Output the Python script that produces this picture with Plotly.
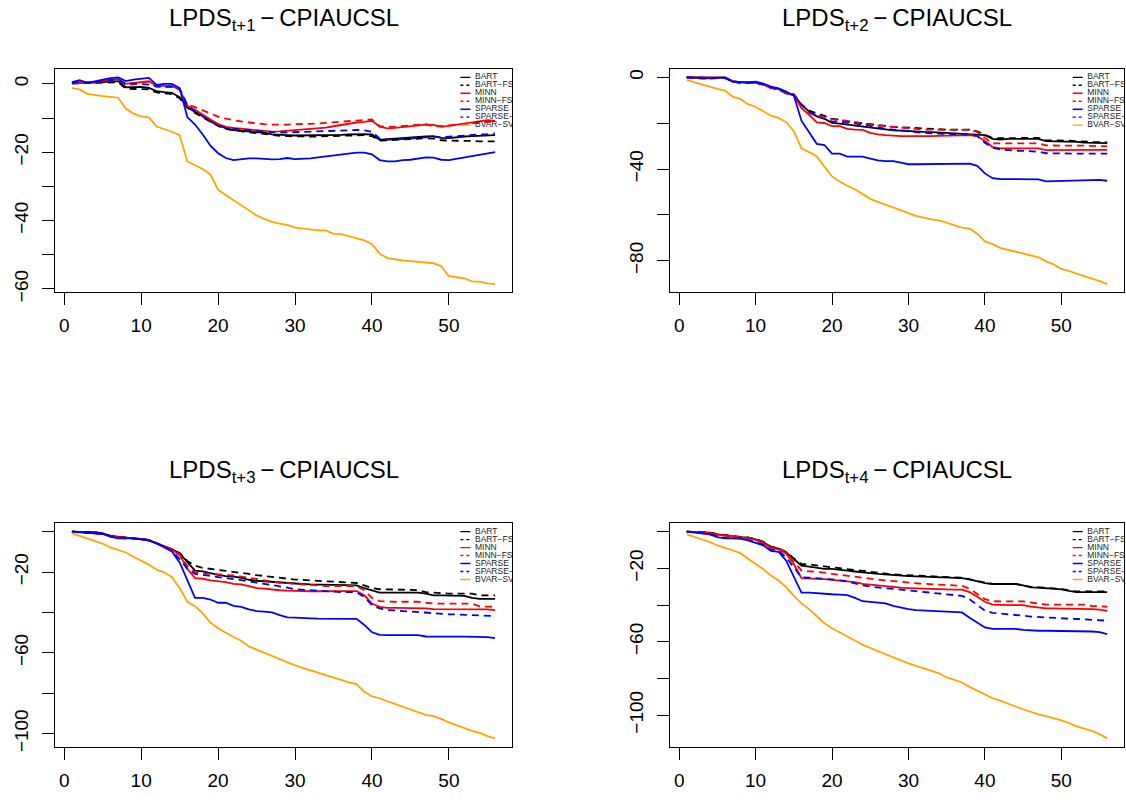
import plotly.graph_objects as go

# ---------------------------------------------------------------
# Cumulative log predictive density scores, CPIAUCSL, horizons 1-4
# ---------------------------------------------------------------
periods = list(range(1, 57))
models = ["BART", "BART\u2212FS", "MINN", "MINN\u2212FS", "SPARSE", "SPARSE\u2212FS", "BVAR\u2212SV"]
horizon_labels = ["t+1", "t+2", "t+3", "t+4"]

# horizon 1
bart_h1 = [0.25, 0.4, 0.4, 0.4, 0.5, 0.7, 0.8, -1.0, -0.9, -0.9, -1.2, -2.1, -2.4, -2.6, -3.9,
           -6.8, -8.2, -9.4, -10.6, -12.0, -13.0, -13.5, -13.7, -14.0, -14.1, -14.3, -14.8, -15.0, -15.0, -15.1,
           -15.1, -15.1, -15.1, -15.0, -15.0, -14.9, -14.8, -14.7, -14.7, -14.8, -16.4, -16.2, -16.0, -15.8, -15.7,
           -15.6, -15.4, -15.3, -15.8, -15.9, -15.6, -15.4, -15.3, -15.2, -15.1, -15.0]
bart_fs_h1 = [0.1, 0.2, 0.2, 0.2, 0.3, 0.5, 0.5, -1.4, -1.4, -1.4, -1.6, -2.5, -2.8, -3.0, -4.2,
              -7.0, -8.5, -9.8, -11.0, -12.3, -13.2, -13.6, -13.9, -14.2, -14.4, -14.7, -15.1, -15.2, -15.3, -15.4,
              -15.5, -15.4, -15.4, -15.3, -15.4, -15.3, -15.1, -15.1, -15.0, -15.3, -16.6, -16.5, -16.4, -16.3, -16.0,
              -16.0, -15.9, -16.0, -16.5, -16.6, -16.6, -16.5, -16.7, -16.8, -16.8, -16.8]
minn_h1 = [0.35, 0.5, 0.4, 0.6, 0.9, 1.25, 1.45, 0.0, 0.2, 0.6, 0.8, -0.6, -0.6, -0.6, -1.7,
           -6.4, -7.6, -8.9, -10.4, -11.8, -12.6, -12.9, -13.1, -13.2, -13.4, -13.7, -14.0, -13.9, -13.7, -13.5,
           -13.4, -13.3, -13.1, -12.8, -12.4, -12.0, -11.6, -11.3, -11.1, -10.8, -12.5, -13.0, -12.9, -12.7, -12.4,
           -12.1, -11.9, -12.0, -12.6, -12.3, -12.0, -11.6, -11.2, -10.9, -10.6, -10.8]
minn_fs_h1 = [0.3, 0.4, 0.3, 0.5, 0.7, 1.0, 1.2, -0.3, -0.1, 0.4, 0.6, -0.8, -0.8, -0.8, -1.6,
              -6.1, -6.8, -7.8, -8.8, -9.6, -10.2, -10.7, -11.0, -11.3, -11.6, -11.8, -11.9, -12.0, -11.9, -11.8,
              -11.8, -11.7, -11.6, -11.4, -11.2, -11.0, -10.8, -10.6, -10.5, -10.4, -12.4, -12.6, -12.5, -12.3, -12.1,
              -11.9, -11.8, -12.5, -12.4, -12.2, -12.0, -11.8, -11.6, -11.4, -11.1, -10.9]
sparse_h1 = [0.5, 1.1, 0.3, 0.8, 1.25, 1.7, 1.9, 0.8, 1.25, 1.5, 1.75, -0.3, 0.0, 0.0, -1.2,
             -9.7, -11.9, -14.8, -18.1, -20.3, -21.7, -22.3, -22.0, -21.8, -21.8, -22.0, -22.1, -22.0, -21.7, -22.0,
             -22.0, -21.8, -21.5, -21.2, -20.9, -20.7, -20.4, -20.1, -20.1, -20.6, -22.3, -22.7, -22.7, -22.3, -22.2,
             -21.8, -21.5, -21.6, -22.2, -22.3, -21.9, -21.4, -21.0, -20.7, -20.3, -20.0]
sparse_fs_h1 = [0.3, 0.8, 0.2, 0.5, 0.9, 1.1, 1.2, 0.0, 0.1, 0.0, -0.2, -0.8, -0.8, -0.9, -1.4,
                -6.3, -8.0, -9.5, -11.0, -12.2, -12.9, -13.2, -13.4, -13.6, -13.9, -14.1, -14.3, -14.3, -14.2, -14.1,
                -14.0, -13.9, -13.8, -13.7, -13.6, -13.5, -13.5, -13.5, -13.6, -14.0, -16.0, -16.3, -16.3, -16.1, -15.9,
                -15.7, -15.6, -15.5, -15.6, -15.4, -15.2, -15.0, -14.9, -14.8, -14.7, -14.5]
bvar_h1 = [-1.25, -1.6, -2.9, -3.3, -3.6, -3.8, -4.05, -7.2, -8.7, -9.5, -9.8, -12.5, -13.2, -14.0, -15.0,
           -22.7, -23.8, -24.9, -26.5, -31.0, -32.5, -34.0, -35.6, -37.2, -38.5, -39.5, -40.4, -40.9, -41.3, -42.1,
           -42.4, -42.8, -42.9, -42.9, -43.9, -44.0, -44.6, -45.0, -45.8, -46.9, -49.7, -51.0, -51.4, -51.7, -51.9,
           -52.1, -52.2, -52.5, -53.4, -56.3, -56.6, -56.9, -57.8, -57.9, -58.4, -58.6]

# horizon 2
bart_h2 = [0.0, -0.1, -0.1, -0.1, -0.1, -0.1, -1.6, -2.1, -2.2, -2.3, -3.0, -4.5, -5.0, -6.9, -7.6,
           -12.0, -14.8, -17.0, -18.0, -19.9, -20.2, -20.6, -21.0, -21.3, -22.0, -22.3, -22.8, -23.1, -23.2, -23.5,
           -23.6, -23.8, -23.9, -24.1, -24.1, -24.2, -24.4, -24.6, -24.8, -25.2, -26.8, -27.1, -26.8, -26.8, -26.8,
           -26.8, -26.8, -27.8, -27.8, -27.8, -28.1, -28.1, -28.5, -28.5, -28.5, -28.7]
bart_fs_h2 = [0.0, -0.2, -0.3, -0.3, -0.2, -0.2, -1.8, -2.4, -2.5, -2.5, -3.2, -4.6, -5.2, -7.0, -7.5,
              -11.8, -14.5, -15.8, -16.8, -18.0, -18.6, -19.2, -19.6, -20.0, -20.5, -20.9, -21.2, -21.6, -21.8, -22.0,
              -22.2, -22.5, -22.6, -22.7, -22.8, -22.8, -22.8, -22.8, -23.5, -24.9, -26.4, -26.5, -26.5, -26.4, -26.5,
              -26.5, -26.4, -27.5, -27.5, -27.4, -27.6, -27.8, -28.1, -28.2, -28.3, -28.4]
minn_h2 = [0.0, -0.1, -0.2, -0.2, -0.1, -0.1, -1.7, -2.2, -2.3, -2.4, -3.1, -4.7, -5.1, -7.0, -7.7,
           -13.4, -16.3, -19.6, -19.9, -21.3, -21.3, -22.5, -22.8, -22.9, -24.2, -24.9, -25.2, -25.5, -25.6, -25.6,
           -25.7, -25.7, -25.6, -25.5, -25.4, -25.3, -25.2, -25.2, -25.6, -27.8, -30.4, -31.0, -31.0, -31.0, -31.0,
           -31.0, -31.0, -31.7, -31.7, -31.7, -31.7, -31.7, -31.7, -31.7, -31.6, -31.6]
minn_fs_h2 = [0.0, -0.2, -0.3, -0.3, -0.2, -0.2, -1.8, -2.3, -2.4, -2.5, -3.1, -4.6, -5.0, -6.8, -7.4,
              -12.0, -15.6, -16.6, -17.4, -18.2, -18.7, -19.2, -19.7, -20.1, -20.6, -21.0, -21.3, -21.6, -22.0, -22.3,
              -22.5, -22.8, -22.8, -22.9, -22.9, -22.9, -22.9, -22.9, -23.8, -26.4, -28.8, -28.8, -28.8, -28.8, -28.8,
              -28.8, -28.8, -29.7, -29.8, -29.8, -29.8, -29.8, -29.8, -29.8, -30.0, -30.1]
sparse_h2 = [0.0, -0.1, -0.4, -0.4, -0.1, 0.0, -1.9, -2.2, -2.2, -1.9, -2.7, -4.0, -4.8, -6.2, -7.9,
             -18.9, -23.8, -29.0, -29.5, -33.3, -33.3, -34.6, -34.6, -34.6, -35.4, -36.2, -36.5, -36.5, -37.2, -37.9,
             -37.9, -37.9, -37.9, -37.9, -37.9, -37.9, -37.9, -37.6, -38.6, -41.9, -44.0, -44.4, -44.4, -44.4, -44.4,
             -44.4, -44.5, -45.4, -45.3, -45.3, -45.1, -45.1, -45.0, -44.8, -44.7, -45.1]
sparse_fs_h2 = [0.0, -0.3, -0.5, -0.5, -0.3, -0.2, -1.9, -2.3, -2.3, -2.1, -2.9, -4.3, -5.0, -6.5, -7.8,
                -12.0, -14.8, -17.0, -18.2, -19.2, -19.4, -19.6, -20.1, -20.6, -21.3, -22.0, -22.4, -22.8, -23.2, -23.5,
                -23.9, -24.2, -24.4, -24.6, -24.8, -24.9, -24.9, -24.9, -25.6, -28.5, -30.7, -31.4, -31.8, -32.0, -32.1,
                -32.3, -32.4, -33.1, -33.2, -33.3, -33.3, -33.3, -33.3, -33.3, -33.3, -33.3]
bvar_h2 = [-1.2, -2.2, -3.3, -4.3, -5.0, -5.8, -8.4, -9.4, -11.7, -12.8, -14.6, -16.7, -17.7, -19.5, -23.5,
           -31.0, -32.6, -34.4, -39.0, -43.2, -45.4, -47.3, -48.8, -51.0, -53.0, -54.3, -55.6, -56.6, -57.9, -59.2,
           -60.4, -61.2, -62.0, -62.4, -63.4, -64.3, -65.6, -66.0, -68.2, -71.6, -72.8, -74.4, -75.2, -76.1, -76.9,
           -77.7, -78.5, -80.3, -81.6, -83.6, -84.4, -85.6, -86.7, -87.6, -88.9, -90.2]

# horizon 3
bart_h3 = [0.0, -0.2, -0.2, -0.2, -0.8, -2.1, -2.6, -2.9, -3.3, -3.6, -4.1, -5.7, -7.3, -8.6, -10.8,
           -15.2, -19.3, -19.6, -20.6, -21.4, -22.0, -22.2, -22.8, -23.8, -24.3, -24.6, -25.0, -25.3, -25.6, -25.8,
           -25.9, -26.1, -26.2, -26.3, -26.3, -26.4, -26.5, -26.6, -27.9, -29.0, -30.2, -30.2, -30.2, -30.2, -30.2,
           -30.2, -30.7, -31.5, -31.5, -31.5, -31.5, -31.8, -32.8, -33.3, -33.3, -33.3]
bart_fs_h3 = [0.0, -0.1, -0.2, -0.3, -0.9, -2.0, -2.5, -2.9, -3.3, -3.6, -4.1, -5.6, -7.2, -8.5, -10.5,
              -14.5, -16.8, -17.9, -18.4, -18.8, -19.2, -19.6, -20.2, -20.9, -21.5, -22.0, -22.5, -23.0, -23.4, -23.7,
              -23.9, -24.1, -24.4, -24.6, -24.8, -25.0, -25.2, -25.4, -26.6, -27.9, -28.5, -28.5, -28.5, -28.5, -28.8,
              -29.0, -29.9, -30.2, -30.5, -30.7, -30.7, -30.7, -30.7, -31.5, -31.5, -31.5]
minn_h3 = [0.0, -0.3, -0.4, -0.6, -1.2, -2.3, -2.8, -3.0, -3.3, -3.7, -4.3, -5.9, -7.4, -8.9, -11.5,
           -18.4, -23.0, -23.3, -24.1, -24.5, -25.0, -25.8, -26.1, -26.9, -27.9, -28.2, -28.7, -29.0, -29.2, -29.4,
           -29.4, -29.5, -29.5, -29.5, -29.5, -29.4, -29.4, -29.4, -31.5, -35.6, -37.2, -37.7, -37.7, -37.7, -37.7,
           -37.7, -38.0, -38.3, -38.3, -38.3, -38.3, -38.3, -38.3, -38.4, -38.5, -38.8]
minn_fs_h3 = [0.0, -0.3, -0.4, -0.6, -1.1, -2.2, -2.8, -3.0, -3.3, -3.7, -4.2, -5.8, -7.3, -8.8, -11.2,
              -17.0, -20.3, -20.6, -20.8, -20.9, -21.3, -21.7, -22.2, -22.8, -23.4, -24.1, -24.7, -25.3, -25.5, -25.8,
              -26.2, -26.6, -26.8, -26.9, -26.9, -26.9, -26.9, -26.9, -29.0, -32.8, -34.4, -34.7, -34.7, -34.7, -34.7,
              -34.7, -35.2, -35.6, -35.6, -35.6, -35.6, -35.6, -35.6, -37.0, -37.2, -37.2]
sparse_h3 = [0.0, -0.3, -0.5, -0.8, -1.0, -2.4, -3.3, -3.3, -3.3, -3.8, -4.4, -5.7, -7.8, -9.8, -15.2,
             -24.1, -32.8, -32.8, -33.6, -35.2, -35.2, -36.7, -37.2, -38.5, -39.3, -39.6, -40.0, -41.3, -42.4, -42.6,
             -42.9, -42.9, -43.1, -43.2, -43.2, -43.2, -43.2, -43.2, -46.2, -49.8, -51.1, -51.2, -51.2, -51.2, -51.2,
             -51.2, -51.9, -52.0, -52.0, -52.0, -52.0, -52.0, -52.0, -51.9, -52.2, -52.7]
sparse_fs_h3 = [0.0, -0.3, -0.5, -0.8, -1.1, -2.3, -3.2, -3.3, -3.3, -3.7, -4.3, -5.7, -7.6, -9.5, -13.5,
                -18.4, -20.9, -21.4, -21.7, -22.5, -22.9, -23.3, -24.0, -24.6, -25.2, -25.8, -26.3, -26.9, -27.7, -28.5,
                -28.8, -29.0, -29.3, -29.5, -29.7, -29.9, -30.0, -30.0, -32.3, -36.4, -38.0, -38.8, -39.0, -39.3, -39.4,
                -39.6, -40.0, -40.5, -40.7, -40.9, -41.0, -41.2, -41.3, -41.5, -41.6, -41.8]
bvar_h3 = [-0.8, -2.1, -3.4, -4.7, -5.9, -7.8, -9.1, -10.3, -12.4, -14.4, -16.3, -18.8, -20.1, -22.5, -27.9,
           -34.7, -36.9, -40.5, -45.0, -47.8, -50.2, -52.2, -54.0, -56.8, -58.4, -60.0, -61.7, -63.3, -64.9, -66.2,
           -67.5, -68.7, -69.7, -71.0, -72.4, -73.6, -74.6, -75.5, -79.3, -81.6, -82.5, -84.0, -85.3, -86.6, -87.8,
           -89.1, -90.7, -91.4, -92.7, -94.5, -95.9, -97.6, -98.7, -99.7, -101.3, -102.4]

# horizon 4
bart_h4 = [0.0, -0.2, -0.2, -0.5, -1.4, -2.0, -2.3, -2.9, -3.2, -4.1, -5.6, -8.3, -9.2, -11.3, -14.9,
           -18.5, -19.0, -19.6, -20.3, -20.3, -20.6, -21.2, -21.7, -22.3, -22.6, -23.0, -23.3, -23.9, -24.1, -24.2,
           -24.3, -24.4, -24.6, -24.8, -24.9, -25.0, -25.3, -26.0, -27.1, -28.0, -28.5, -28.4, -28.4, -28.5, -29.3,
           -30.3, -30.5, -30.7, -31.1, -31.4, -32.3, -32.9, -32.9, -32.9, -32.9, -32.9]
bart_fs_h4 = [0.0, -0.1, -0.1, -0.4, -1.3, -1.9, -2.2, -2.8, -3.1, -4.0, -5.5, -8.1, -9.0, -11.0, -14.5,
              -17.6, -17.8, -18.5, -18.9, -19.4, -19.9, -20.3, -20.9, -21.5, -22.0, -22.4, -22.9, -23.3, -23.5, -23.7,
              -23.9, -24.1, -24.3, -24.4, -24.6, -24.8, -25.1, -26.0, -27.0, -27.8, -28.4, -28.3, -28.3, -28.4, -29.2,
              -30.1, -30.3, -30.5, -30.9, -31.2, -32.1, -32.6, -32.6, -32.6, -32.6, -32.5]
minn_h4 = [0.0, -0.3, -0.4, -0.8, -1.6, -2.3, -2.6, -3.2, -3.5, -4.5, -6.1, -8.8, -9.6, -12.0, -17.6,
           -25.3, -25.3, -25.7, -25.9, -26.2, -26.6, -26.9, -27.5, -28.4, -28.9, -29.3, -29.6, -30.2, -30.5, -30.7,
           -30.9, -31.1, -31.2, -31.4, -31.5, -31.6, -31.6, -32.9, -35.5, -38.2, -39.7, -40.0, -40.0, -40.0, -40.0,
           -40.9, -41.5, -41.8, -41.8, -41.8, -41.8, -41.8, -42.2, -42.2, -42.5, -43.1]
minn_fs_h4 = [0.0, -0.3, -0.4, -0.7, -1.5, -2.2, -2.5, -3.1, -3.4, -4.3, -5.9, -8.5, -9.3, -11.5, -16.0,
              -21.2, -21.5, -21.6, -22.3, -23.0, -23.4, -23.9, -24.5, -25.1, -25.7, -26.2, -26.6, -26.9, -27.4, -27.8,
              -28.1, -28.4, -28.6, -28.9, -29.1, -29.3, -29.5, -31.1, -33.8, -36.8, -37.9, -37.9, -37.9, -37.9, -38.0,
              -38.6, -39.1, -39.7, -39.7, -39.7, -39.7, -39.7, -39.7, -40.5, -40.9, -40.9]
sparse_h4 = [0.0, -0.5, -0.9, -1.4, -2.9, -3.6, -3.6, -3.8, -4.7, -5.9, -7.4, -10.4, -11.0, -15.8, -24.8,
             -33.2, -33.2, -33.6, -33.9, -34.1, -34.3, -34.6, -36.1, -37.9, -38.2, -38.6, -39.1, -40.4, -41.5, -42.2,
             -42.7, -42.9, -43.1, -43.3, -43.6, -43.6, -44.0, -46.9, -49.6, -52.2, -53.0, -53.0, -53.0, -53.0, -53.5,
             -53.9, -54.0, -54.0, -54.0, -54.0, -54.0, -54.0, -54.1, -54.4, -54.8, -55.8]
sparse_fs_h4 = [0.0, -0.4, -0.8, -1.2, -2.6, -3.3, -3.4, -3.6, -4.4, -5.5, -7.0, -9.8, -10.4, -14.0, -19.5,
                -24.8, -25.1, -25.3, -25.7, -26.0, -26.5, -27.1, -28.2, -29.3, -29.9, -30.5, -30.8, -31.1, -31.5, -32.0,
                -32.4, -32.9, -33.3, -33.8, -34.2, -34.6, -35.0, -36.8, -40.0, -43.1, -44.2, -44.5, -44.9, -45.4, -45.8,
                -46.3, -46.6, -46.9, -47.0, -47.2, -47.4, -47.6, -47.8, -48.1, -48.3, -48.5]
bvar_h4 = [-1.4, -2.7, -4.1, -5.6, -7.4, -9.0, -10.2, -11.7, -14.9, -17.6, -20.3, -23.9, -26.6, -30.2, -35.0,
           -39.1, -42.2, -46.3, -49.9, -52.6, -54.9, -57.1, -59.2, -61.6, -63.4, -65.2, -67.0, -68.8, -70.2, -71.8,
           -73.3, -74.5, -75.9, -77.2, -79.5, -80.8, -82.2, -84.6, -86.7, -89.0, -90.8, -92.1, -93.9, -95.3, -96.8,
           -98.4, -99.6, -100.5, -101.6, -102.9, -104.3, -106.1, -107.4, -108.6, -110.4, -112.7]

x_tick_vals = [0, 10, 20, 30, 40, 50]
x_tick_text = ["0", "10", "20", "30", "40", "50"]
y_tick_vals = [
    [0, -10, -20, -30, -40, -50, -60],
    [0, -20, -40, -60, -80],
    [0, -20, -40, -60, -80, -100],
    [0, -20, -40, -60, -80, -100],
]
y_tick_text = [
    ["0", "", "\u221220", "", "\u221240", "", "\u221260"],
    ["0", "", "\u221240", "", "\u221280"],
    ["", "\u221220", "", "\u221260", "", "\u2212100"],
    ["", "\u221220", "", "\u221260", "", "\u2212100"],
]

panels = [
    [bart_h1, bart_fs_h1, minn_h1, minn_fs_h1, sparse_h1, sparse_fs_h1, bvar_h1],
    [bart_h2, bart_fs_h2, minn_h2, minn_fs_h2, sparse_h2, sparse_fs_h2, bvar_h2],
    [bart_h3, bart_fs_h3, minn_h3, minn_fs_h3, sparse_h3, sparse_fs_h3, bvar_h3],
    [bart_h4, bart_fs_h4, minn_h4, minn_fs_h4, sparse_h4, sparse_fs_h4, bvar_h4],
]

# ---------------------------------------------------------------
# styling
# ---------------------------------------------------------------
FONT = "Liberation Sans, Arial, Helvetica, sans-serif"
W, H = 1126, 810
line_colors = ["#000000", "#000000", "#FF0000", "#FF0000", "#0000FF", "#0000FF", "#FFA500"]
line_dash = ["solid", "7px,5px", "solid", "7px,5px", "solid", "7px,5px", "solid"]
key_dash = ["solid", "3px,3px", "solid", "3px,3px", "solid", "3px,3px", "solid"]

# plot-box pixel positions (left, right, top, bottom)
boxes = [(55, 512, 70, 296), (670, 1124, 70, 296), (55, 512, 530, 756), (670, 1124, 530, 756)]
title_y_px = [20, 20, 477, 477]


def padded(lo, hi, frac=0.04):
    pad = (hi - lo) * frac
    return [lo - pad, hi + pad]


fig = go.Figure()
x_range = padded(min(periods), max(periods))

for i, series in enumerate(panels):
    xa = "x" if i == 0 else f"x{i + 1}"
    ya = "y" if i == 0 else f"y{i + 1}"
    all_vals = [v for s in series for v in s]
    y_range = padded(min(all_vals), max(all_vals))

    for k, vals in enumerate(series):
        fig.add_trace(go.Scatter(
            x=periods, y=vals, mode="lines", xaxis=xa, yaxis=ya,
            line=dict(color=line_colors[k], width=1.8, dash=line_dash[k]),
            showlegend=False, hoverinfo="skip",
        ))

    # key in the top-right corner of each panel, clipped at the plot box
    def fx(f):
        return x_range[0] + f * (x_range[1] - x_range[0])

    def fy(f):
        return y_range[1] - f * (y_range[1] - y_range[0])

    for k, name in enumerate(models):
        row_f = 0.0367 + k * 0.0357
        fig.add_trace(go.Scatter(
            x=[fx(0.887), fx(0.909)], y=[fy(row_f), fy(row_f)], mode="lines",
            xaxis=xa, yaxis=ya,
            line=dict(color=line_colors[k], width=1.4, dash=key_dash[k]),
            showlegend=False, hoverinfo="skip",
        ))
        fig.add_trace(go.Scatter(
            x=[fx(0.919)], y=[fy(row_f)], mode="text", text=[name],
            textposition="middle right", cliponaxis=True,
            textfont=dict(family=FONT, size=8.5, color="#222222"),
            xaxis=xa, yaxis=ya, showlegend=False, hoverinfo="skip",
        ))

    left, right, top, bottom = boxes[i]
    axis_common = dict(
        showline=True, mirror=True, linecolor="black", linewidth=1.3,
        ticks="outside", ticklen=12, tickwidth=1.3, tickcolor="black",
        showgrid=False, zeroline=False,
        tickfont=dict(family=FONT, size=19, color="black"),
    )
    fig.layout[("xaxis" if i == 0 else f"xaxis{i + 1}")] = dict(
        axis_common, domain=[left / W, right / W], range=x_range,
        tickvals=x_tick_vals, ticktext=x_tick_text, anchor=ya,
        ticklabelstandoff=4,
    )
    fig.layout[("yaxis" if i == 0 else f"yaxis{i + 1}")] = dict(
        axis_common, domain=[1 - bottom / H, 1 - top / H], range=y_range,
        tickvals=y_tick_vals[i], ticktext=y_tick_text[i], anchor=xa,
        tickangle=-90, ticklabelstandoff=6,
    )

    fig.add_annotation(
        x=(left + right) / 2 / W, y=1 - title_y_px[i] / H, xref="paper", yref="paper",
        text=f"LPDS<sub>{horizon_labels[i]}</sub>\u2009\u2212\u2009CPIAUCSL",
        showarrow=False, xanchor="center", yanchor="middle",
        font=dict(family=FONT, size=24, color="black"),
    )

fig.update_layout(
    width=W, height=H, margin=dict(l=0, r=0, t=0, b=0),
    paper_bgcolor="white", plot_bgcolor="white", showlegend=False,
)

fig.write_html("out.html")
